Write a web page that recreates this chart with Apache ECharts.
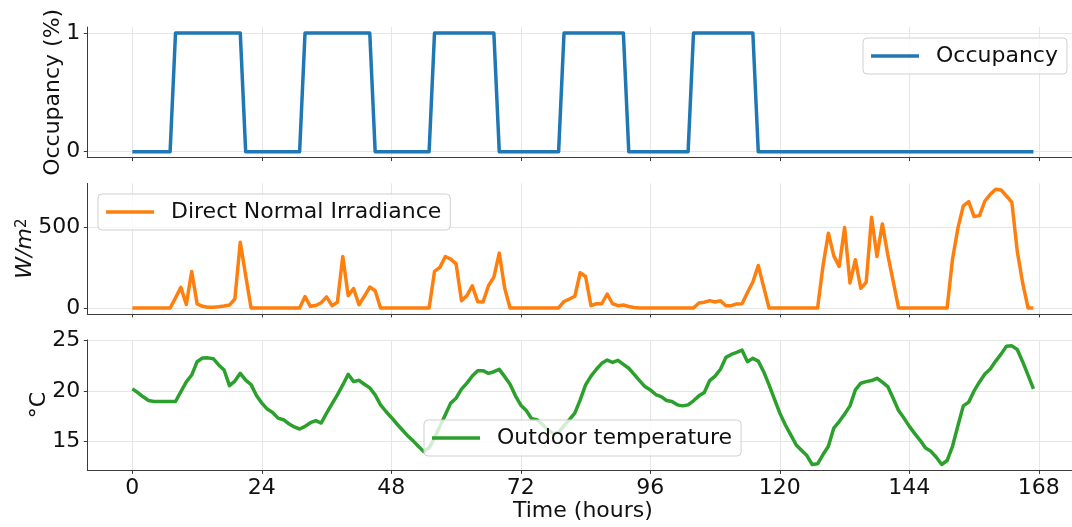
<!DOCTYPE html>
<html>
<head>
<meta charset="utf-8">
<script src="https://cdn.jsdelivr.net/npm/echarts@6/dist/echarts.min.js"></script>
<style>
  html, body { margin: 0; padding: 0; background: #ffffff; }
  #chart { width: 1072px; height: 527px; }
</style>
</head>
<body>
<div id="chart"></div>
<script>
// One week of hourly building data (hour 0 .. 167)
const hours = Array.from({ length: 168 }, (_, i) => i);
const hourTicks = [0, 24, 48, 72, 96, 120, 144, 168];

// Occupancy flag per hour, one row per day
const occupancy = [
  0,0,0,0,0,0,0,0,1,1,1,1,1,1,1,1,1,1,1,1,1,0,0,0,
  0,0,0,0,0,0,0,0,1,1,1,1,1,1,1,1,1,1,1,1,1,0,0,0,
  0,0,0,0,0,0,0,0,1,1,1,1,1,1,1,1,1,1,1,1,0,0,0,0,
  0,0,0,0,0,0,0,0,1,1,1,1,1,1,1,1,1,1,1,1,0,0,0,0,
  0,0,0,0,0,0,0,0,1,1,1,1,1,1,1,1,1,1,1,1,0,0,0,0,
  0,0,0,0,0,0,0,0,0,0,0,0,0,0,0,0,0,0,0,0,0,0,0,0,
  0,0,0,0,0,0,0,0,0,0,0,0,0,0,0,0,0,0,0,0,0,0,0,0
];

// Direct normal irradiance, W/m2, one row per day
const irradiance = [
  0,0,0,0,0,0,0,0,62,127,22,225,25,10,5,5,8,12,18,55,405,200,0,0,
  0,0,0,0,0,0,0,0,70,10,15,32,68,14,35,317,76,120,20,72,129,106,0,0,
  0,0,0,0,0,0,0,0,225,250,317,301,272,45,76,137,39,37,137,190,338,123,0,0,
  0,0,0,0,0,0,0,0,40,55,72,217,194,14,26,26,86,26,14,18,9,3,0,0,
  0,0,0,0,0,0,0,0,0,31,35,45,37,45,14,14,25,26,95,160,262,130,0,0,
  0,0,0,0,0,0,0,0,260,461,321,256,496,154,297,121,158,559,317,518,328,166,0,0,
  0,0,0,0,0,0,0,0,300,492,629,655,563,569,659,700,731,727,690,651,350,154,0,0
];

// Outdoor dry-bulb temperature, degC, one row per day
const temperature = [
  20.23,19.87,19.45,19.08,18.98,18.98,18.98,18.98,18.98,19.96,20.92,21.6,22.92,23.28,23.3,23.22,22.6,22.1,20.55,21.0,21.77,21.1,20.65,19.57,
  18.82,18.23,17.9,17.34,17.18,16.78,16.46,16.26,16.52,16.88,17.08,16.85,17.83,18.75,19.64,20.62,21.67,20.95,21.08,20.69,20.33,19.64,18.65,17.99,
  17.4,16.78,16.19,15.6,15.11,14.55,14.03,14.4,15.37,16.52,17.67,18.82,19.31,20.2,20.8,21.5,22.03,22.03,21.77,21.93,22.16,21.44,20.69,19.54,
  18.62,18.09,17.27,17.18,16.71,16.19,15.8,15.93,16.58,17.18,17.83,19.14,20.62,21.5,22.17,22.76,23.08,22.85,23.05,22.66,22.27,21.67,21.05,20.46,
  20.13,19.67,19.47,19.08,18.98,18.65,18.55,18.65,19.05,19.54,19.87,21.05,21.5,22.17,23.35,23.64,23.84,24.06,22.92,23.25,22.98,21.93,20.62,19.21,
  17.83,16.68,15.7,14.71,14.16,13.63,12.75,12.81,13.73,14.55,16.35,17.0,17.73,18.55,20.13,20.79,20.95,21.05,21.28,20.89,20.46,19.31,18.09,17.34,
  16.52,15.8,15.14,14.38,14.05,13.46,12.75,13.14,14.55,16.58,18.55,18.92,20.03,20.92,21.7,22.19,22.98,23.67,24.46,24.49,24.13,22.92,21.6,20.23
];

const occupancyTicks = [0, 1];
const irradianceTicks = [0, 500];
const temperatureTicks = [15, 20, 25];

const seriesNames = ['Occupancy', 'Direct Normal Irradiance', 'Outdoor temperature'];
const colors = ['#1f77b4', '#ff7f0e', '#2ca02c'];

const FONT = 'DejaVu Sans';
const SPINE = '#3a3a3a';
const GRIDLINE = '#e6e6e6';

// 5 % padding around the data range on every axis
const padMin = v => v.min - 0.05 * (v.max - v.min);
const padMax = v => v.max + 0.05 * (v.max - v.min);

const panelTops = [27.1, 183.4, 339.9];
const panelHeight = 130.5;

function xAxisFor(index, showLabels) {
  return {
    type: 'value', gridIndex: index, min: padMin, max: padMax,
    axisLine: { show: true, onZero: false, lineStyle: { color: SPINE, width: 1 } },
    axisTick: { show: true, length: 3.5, customValues: hourTicks, lineStyle: { color: SPINE } },
    axisLabel: { show: showLabels, customValues: hourTicks, margin: 7, color: '#111', fontSize: 22, fontFamily: FONT },
    splitLine: { show: true, lineStyle: { color: GRIDLINE, width: 1 } },
    name: showLabels ? 'Time (hours)' : '',
    nameLocation: 'middle', nameGap: 30, nameMoveOverlap: false,
    nameTextStyle: { color: '#111', fontSize: 22, fontFamily: FONT }
  };
}

function yAxisFor(index, ticks, name, gap, rich) {
  return {
    type: 'value', gridIndex: index, min: padMin, max: padMax,
    axisLine: { show: true, onZero: false, lineStyle: { color: SPINE, width: 1 } },
    axisTick: { show: true, length: 3.5, customValues: ticks, lineStyle: { color: SPINE } },
    axisLabel: { customValues: ticks, margin: 7, color: '#111', fontSize: 22, fontFamily: FONT },
    splitLine: { show: true, lineStyle: { color: GRIDLINE, width: 1 } },
    name: name, nameLocation: 'middle', nameRotate: 90, nameGap: gap, nameMoveOverlap: false,
    nameTextStyle: Object.assign({ color: '#111', fontSize: 22, fontFamily: FONT }, rich ? { rich: rich } : {})
  };
}

function legendFor(name, left, top) {
  return {
    data: [name], left: left, top: top, orient: 'horizontal',
    icon: 'rect', itemWidth: 48, itemHeight: 3.5,
    padding: [7, 9, 7, 8],
    backgroundColor: 'rgba(255,255,255,0.8)',
    borderColor: '#d0d0d0', borderWidth: 1, borderRadius: 4,
    selectedMode: false,
    textStyle: { color: '#111', fontSize: 22, fontFamily: FONT, padding: [0, 0, 0, 12] }
  };
}

function lineSeries(i, values) {
  return {
    name: seriesNames[i], type: 'line', xAxisIndex: i, yAxisIndex: i,
    data: hours.map((h, k) => [h, values[k]]),
    showSymbol: false, symbol: 'none',
    lineStyle: { color: colors[i], width: 3.5, join: 'round' },
    itemStyle: { color: colors[i] },
    z: 2
  };
}

const chart = echarts.init(document.getElementById('chart'), null, { renderer: 'canvas' });
chart.setOption({
  animation: false,
  backgroundColor: '#ffffff',
  grid: panelTops.map(t => ({ left: 87.3, width: 991.2, top: t, height: panelHeight, outerBoundsMode: 'none', containLabel: false })),
  xAxis: [xAxisFor(0, false), xAxisFor(1, false), xAxisFor(2, true)],
  yAxis: [
    yAxisFor(0, occupancyTicks, 'Occupancy (%)', 23),
    yAxisFor(1, irradianceTicks, '{it|W/m}{sup|2}', 51, {
      it: { fontStyle: 'italic', fontSize: 22, fontFamily: FONT, color: '#111' },
      sup: { fontSize: 15, fontFamily: FONT, color: '#111', verticalAlign: 'top', lineHeight: 14 }
    }),
    yAxisFor(2, temperatureTicks, '°C', 37)
  ],
  legend: [
    legendFor(seriesNames[0], 863, 38),
    legendFor(seriesNames[1], 98, 194),
    legendFor(seriesNames[2], 424, 420)
  ],
  series: [lineSeries(0, occupancy), lineSeries(1, irradiance), lineSeries(2, temperature)]
});
</script>
</body>
</html>
